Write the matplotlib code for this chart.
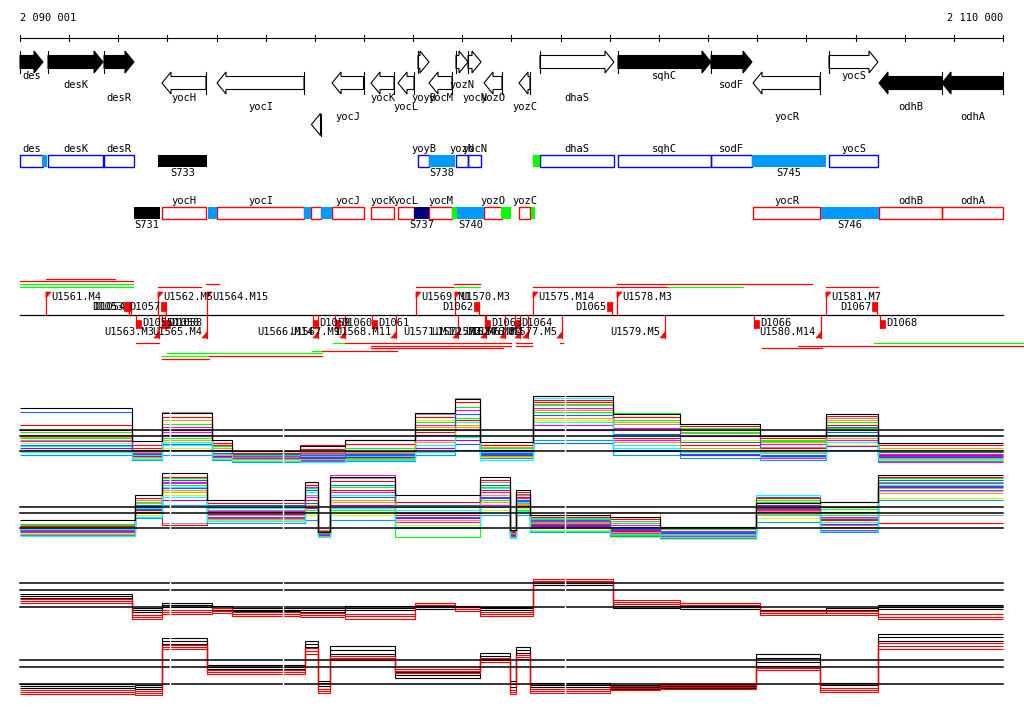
import matplotlib
matplotlib.use('Agg')
import matplotlib.pyplot as plt
from matplotlib.patches import Polygon, Rectangle

plt.rcParams['font.family'] = ['DejaVu Sans Mono']

# ---------------- data ----------------
REGION_START = 2090001
REGION_END = 2110000
ruler_ticks = [REGION_START] + list(range(2091000, 2110001, 1000))

# genes (annotation)
gene_names = ['des', 'desK', 'desR', 'yocH', 'yocI', '', 'yocJ', 'yocK', 'yocL',
              'yoyB', 'yocM', 'yozN', 'yocN', 'yozO', 'yozC', 'dhaS', 'sqhC',
              'sodF', 'yocR', 'yocS', 'odhB', 'odhA']
gene_start = [2090001, 2090571, 2091710, 2092890, 2094009, 2095930, 2096349,
              2097142, 2097691, 2098098, 2098322, 2098871, 2099116, 2099441,
              2100153, 2100580, 2102167, 2104059, 2104914, 2106460, 2107477,
              2108759]
gene_end = [2090469, 2091690, 2092320, 2093785, 2095779, 2096115, 2096990,
            2097610, 2098017, 2098322, 2098790, 2099116, 2099380, 2099807,
            2100377, 2102086, 2104059, 2104893, 2106277, 2107457, 2108759,
            2110000]
gene_strand = ['+', '+', '+', '-', '-', '-', '-', '-', '-', '+', '-', '+', '+',
               '-', '-', '+', '+', '+', '-', '+', '-', '-']
gene_filled = [True, True, True, False, False, False, False, False, False,
               False, False, False, False, False, False, False, True, True,
               False, False, True, True]

# segments between / over genes
seg_names = ['', 'S733', 'S738', '', 'S745', 'S731', '', '', '', 'S737', '',
             'S740', '', '', 'S746']
seg_start = [2090449, 2092809, 2098322, 2100438, 2104893, 2092320, 2093826,
             2095779, 2096125, 2098017, 2098790, 2098892, 2099787, 2100397,
             2106297]
seg_end = [2090550, 2093806, 2098851, 2100580, 2106399, 2092849, 2094009,
           2095921, 2096349, 2098322, 2098892, 2099441, 2099990, 2100478,
           2107477]
seg_strand = ['+', '+', '+', '+', '+', '-', '-', '-', '-', '-', '-', '-', '-',
              '-', '-']
seg_kind = ['light', 'black', 'light', 'green', 'light', 'black', 'light',
            'light', 'light', 'navy', 'green', 'light', 'green', 'green',
            'light']

# probe features: U = upstream, D = downstream
u_up_names = ['U1561.M4', 'U1562.M5', 'U1564.M15', 'U1569.M1', 'U1570.M3',
              'U1575.M14', 'U1578.M3', 'U1581.M7']
u_up_pos = [2090530, 2092809, 2093806, 2098058, 2098851, 2100438, 2102147,
            2106399]
u_down_names = ['U1563.M3', 'U1565.M4', 'U1566.M14', 'U1567.M9', 'U1568.M11',
                'U1571.M1', 'U1572.M2', 'U1573.M6', 'U1574.M8', 'U1576.M4',
                'U1577.M5', 'U1579.M5', 'U1580.M14']
u_down_pos = [2092829, 2093806, 2096064, 2096613, 2097651, 2098912, 2099481,
              2099868, 2100174, 2100336, 2101028, 2103124, 2106297]
d_up_names = ['D1053', 'D1054', 'D1057', 'D1062', 'D1065', 'D1067']
d_up_pos = [2092117, 2092158, 2092870, 2099238, 2101944, 2107335]
d_down_names = ['D1055', 'D1056', 'D1058', 'D1059', 'D1060', 'D1061', 'D1063',
                'D1064', 'D1066', 'D1068']
d_down_pos = [2092361, 2092890, 2092951, 2095962, 2096410, 2097162, 2099461,
              2100072, 2104934, 2107498]

# transcripts above / below the probe line
tr_up_start = [2090530, 2090001, 2090001, 2090001, 2092809, 2093785, 2098058,
               2098830, 2098830, 2100438, 2103184, 2102147, 2106399]
tr_up_end = [2091934, 2092300, 2092300, 2092300, 2093683, 2094050, 2098810,
             2099360, 2099360, 2103184, 2104710, 2106114, 2107457]
tr_up_kind = ['red', 'red', 'green', 'green', 'red', 'red', 'red', 'red',
              'green', 'red', 'green', 'red', 'red']
tr_down_start = [2092361, 2092992, 2092890, 2093846, 2092890, 2095942, 2096145,
                 2096369, 2096613, 2097142, 2097142, 2100092, 2100092, 2100987,
                 2105097, 2105829, 2107376]
tr_down_end = [2092829, 2096145, 2093846, 2096145, 2093846, 2096145, 2097671,
               2096613, 2099990, 2099990, 2099827, 2100418, 2100418, 2101048,
               2106318, 2110400, 2110400]
tr_down_kind = ['red', 'green', 'green', 'red', 'red', 'green', 'red', 'green',
                'red', 'red', 'red', 'red', 'red', 'red', 'red', 'red', 'green']

# expression profiles, plus strand (step edges in bp, levels in log2 signal)
edges_plus = [2090001, 2092280, 2092890, 2093910, 2094310, 2095700, 2096610,
              2098040, 2098850, 2099360, 2100440, 2102070, 2103430, 2105060,
              2106400, 2107460, 2110000]
plus_probe_levels = [
    [9.0, 7.8, 11.8, 8.0, 7.3, 7.6, 7.7, 11.6, 13.2, 8.0, 12.5, 10.6, 9.7, 8.3, 11.2, 7.8],
    [11.8, 8.0, 8.6, 8.0, 7.6, 7.5, 7.6, 8.2, 8.6, 7.6, 8.7, 7.9, 7.6, 7.5, 10.3, 7.8],
    [10.5, 8.5, 10.0, 8.5, 7.5, 8.5, 9.0, 9.8, 11.0, 8.0, 12.8, 9.2, 8.5, 8.2, 10.5, 7.5],
    [9.3, 7.8, 11.0, 8.2, 7.4, 7.8, 7.8, 10.3, 10.5, 8.3, 12.0, 10.8, 10.0, 8.8, 11.0, 8.2],
    [9.8, 7.5, 9.2, 7.5, 7.1, 7.3, 7.2, 10.0, 11.2, 7.8, 11.8, 11.7, 10.2, 9.0, 10.2, 7.3],
    [9.5, 7.2, 9.8, 7.3, 6.9, 7.0, 6.9, 9.0, 10.0, 7.4, 10.5, 9.0, 7.5, 7.2, 9.0, 6.8],
    [8.4, 7.5, 8.5, 7.5, 7.2, 7.4, 7.4, 8.5, 10.8, 7.8, 13.2, 8.5, 8.0, 7.8, 9.5, 7.2],
    [8.7, 7.2, 8.2, 7.2, 7.0, 7.2, 7.3, 11.0, 9.5, 7.3, 11.0, 10.0, 9.0, 8.0, 8.5, 7.0],
    [8.2, 7.4, 8.0, 7.4, 7.2, 7.3, 7.3, 8.2, 9.0, 7.5, 10.0, 8.0, 7.5, 7.4, 8.4, 7.3],
    [7.5, 7.0, 7.5, 7.0, 6.8, 6.9, 6.9, 7.5, 8.0, 7.2, 9.0, 7.5, 7.2, 7.0, 8.0, 6.9],
    [10.0, 8.2, 11.3, 8.7, 7.7, 8.1, 8.6, 11.3, 12.8, 8.5, 13.0, 11.3, 10.4, 9.2, 11.4, 8.5],
    [9.2, 7.9, 10.6, 8.4, 7.5, 7.9, 8.2, 10.8, 12.3, 8.2, 12.6, 11.0, 9.8, 8.9, 10.8, 8.0],
    [8.9, 7.7, 10.3, 7.9, 7.4, 7.7, 7.9, 10.5, 12.0, 7.9, 12.2, 10.2, 9.4, 8.6, 10.0, 7.6],
    [8.5, 7.6, 9.5, 7.7, 7.2, 7.2, 7.5, 9.5, 11.6, 7.7, 11.5, 9.6, 8.8, 8.0, 9.8, 7.4],
    [8.0, 7.3, 9.0, 7.6, 7.1, 7.1, 7.1, 8.8, 10.3, 7.4, 11.2, 8.8, 8.2, 7.7, 9.2, 7.2],
    [7.8, 7.1, 8.8, 7.1, 6.9, 6.8, 7.0, 7.8, 9.3, 7.0, 10.8, 8.2, 7.8, 7.3, 8.8, 7.1],
    [12.2, 8.9, 11.7, 9.0, 7.9, 8.4, 9.0, 11.7, 13.1, 8.8, 13.4, 11.6, 10.6, 9.4, 11.6, 8.7],
]

# expression profiles, minus strand
edges_minus = [2090001, 2092340, 2092890, 2093810, 2095800, 2096060, 2096310,
               2097630, 2099360, 2099970, 2100090, 2100380, 2102000, 2103020,
               2104970, 2106280, 2107460, 2110000]
minus_probe_levels = [
    [8.2, 10.7, 8.4, 9.7, 11.2, 7.7, 12.9, 9.5, 12.5, 7.4, 10.4, 8.5, 8.6, 7.4, 9.5, 8.2, 9.2],
    [7.9, 10.2, 12.7, 10.2, 11.7, 7.4, 12.2, 10.2, 12.2, 7.2, 10.7, 8.7, 8.0, 7.5, 11.0, 9.5, 12.7],
    [7.7, 9.7, 8.2, 9.5, 10.7, 7.2, 11.7, 9.2, 11.7, 7.5, 11.0, 8.2, 7.7, 7.2, 9.9, 8.7, 8.4],
    [8.0, 10.4, 11.7, 9.2, 10.2, 7.5, 10.7, 8.7, 11.2, 7.3, 10.2, 8.4, 9.5, 7.3, 9.2, 8.9, 11.4],
    [8.3, 10.0, 12.2, 8.7, 9.7, 7.3, 9.7, 7.0, 10.7, 7.2, 9.7, 7.9, 7.2, 6.9, 10.7, 9.2, 12.9],
    [7.5, 9.5, 12.4, 8.9, 12.0, 7.1, 13.2, 8.5, 10.2, 7.0, 11.3, 8.0, 7.4, 7.1, 9.7, 7.7, 11.7],
    [7.8, 9.9, 12.0, 9.9, 11.5, 7.4, 11.2, 9.7, 11.9, 7.1, 10.5, 8.9, 7.9, 7.3, 11.2, 8.5, 12.2],
    [7.4, 9.2, 11.2, 8.7, 9.2, 7.2, 9.2, 8.2, 9.7, 7.0, 9.9, 7.7, 7.0, 6.8, 8.9, 7.9, 10.9],
    [7.6, 9.5, 10.7, 9.3, 9.9, 7.3, 10.2, 8.9, 10.9, 7.2, 10.1, 8.1, 7.6, 7.2, 10.2, 8.3, 12.0],
    [7.2, 8.9, 10.2, 8.4, 8.7, 7.0, 8.7, 7.9, 9.2, 6.9, 9.2, 7.5, 7.1, 6.9, 8.5, 7.5, 10.7],
    [8.1, 10.9, 13.0, 10.4, 12.2, 7.6, 12.6, 10.5, 12.7, 7.6, 11.5, 9.0, 8.8, 7.9, 10.9, 10.0, 13.0],
    [7.9, 10.5, 12.9, 10.0, 11.9, 7.4, 12.0, 10.0, 12.0, 7.4, 11.2, 8.8, 8.4, 7.8, 10.5, 9.8, 12.5],
    [7.7, 10.1, 12.5, 9.6, 11.0, 7.3, 11.5, 9.4, 11.5, 7.3, 10.9, 8.6, 8.2, 7.6, 10.0, 9.0, 12.4],
    [7.6, 9.8, 11.9, 9.0, 10.4, 7.2, 11.0, 9.0, 11.0, 7.1, 10.6, 8.3, 7.8, 7.4, 9.8, 8.8, 12.1],
    [7.3, 9.4, 11.5, 8.8, 10.0, 7.1, 10.5, 8.7, 10.5, 7.0, 10.3, 7.9, 7.5, 7.2, 9.6, 8.0, 11.9],
    [7.1, 9.0, 11.0, 8.6, 9.5, 7.0, 9.9, 8.0, 10.0, 6.9, 9.6, 7.6, 7.3, 7.0, 9.3, 7.6, 11.6],
    [8.7, 11.2, 13.4, 10.7, 12.5, 7.5, 13.0, 11.2, 13.0, 7.7, 11.7, 9.2, 9.0, 8.0, 10.4, 10.5, 13.2],
]

# summary profiles (three replicates each of two conditions)
plus_cond1 = [
    [9.03, 7.79, 8.23, 7.97, 7.79, 7.79, 7.97, 7.97, 7.97, 7.88, 10.18, 8.15, 7.97, 7.62, 7.79, 8.06],
    [8.85, 7.62, 8.06, 7.79, 7.62, 7.62, 7.79, 7.88, 7.88, 7.79, 10.00, 7.97, 7.88, 7.53, 7.62, 7.88],
    [8.68, 7.44, 7.88, 7.62, 7.53, 7.44, 7.62, 7.71, 7.71, 7.62, 9.82, 7.79, 7.71, 7.35, 7.53, 7.71],
]
plus_cond2 = [
    [8.59, 7.18, 7.62, 7.79, 7.44, 7.35, 7.26, 8.23, 7.88, 7.44, 10.35, 8.50, 8.23, 7.53, 7.53, 7.26],
    [8.41, 7.00, 7.44, 7.53, 7.26, 7.18, 7.09, 8.06, 7.71, 7.26, 10.18, 8.32, 8.06, 7.35, 7.35, 7.00],
    [8.23, 6.82, 7.26, 7.35, 7.09, 7.00, 6.82, 7.88, 7.53, 7.09, 10.00, 8.15, 7.88, 7.18, 7.18, 6.82],
]
minus_cond1 = [
    [7.88, 7.79, 11.94, 9.56, 11.68, 8.15, 11.24, 8.94, 10.62, 8.15, 11.15, 7.97, 7.79, 7.88, 10.53, 7.97, 12.29],
    [7.71, 7.62, 11.68, 9.38, 11.41, 7.97, 10.88, 8.68, 10.35, 7.88, 10.88, 7.79, 7.62, 7.71, 10.18, 7.79, 12.03],
    [7.53, 7.44, 11.41, 9.21, 11.15, 7.71, 10.53, 8.41, 10.09, 7.62, 10.62, 7.62, 7.44, 7.53, 9.82, 7.53, 11.68],
]
minus_cond2 = [
    [7.35, 7.26, 11.32, 9.12, 11.06, 7.44, 10.35, 9.21, 10.18, 7.35, 10.44, 7.44, 7.71, 7.79, 9.47, 7.53, 11.50],
    [7.18, 7.09, 11.15, 8.94, 10.79, 7.26, 10.18, 9.03, 10.00, 7.18, 10.26, 7.26, 7.53, 7.62, 9.29, 7.35, 11.24],
    [7.00, 6.91, 10.97, 8.76, 10.53, 7.09, 10.00, 8.85, 9.82, 7.00, 10.09, 7.09, 7.35, 7.44, 9.12, 7.18, 10.97],
]
ref_levels = [10.0, 9.4, 7.9]
gap_positions = [2093050, 2095350, 2101090]

# ---------------- style / layout ----------------
W, H = 1024, 714
BP_PER_PX = (REGION_END - REGION_START) / 983.0
X0 = REGION_START - 20 * BP_PER_PX
X1 = X0 + W * BP_PER_PX
FS = 7.5

probe_colors = ['#999999', '#0066ff', '#ff0000', '#ff9900', '#00ff00', '#ff00ff',
                '#00ffff', '#ccff00', '#9900ff', '#0099ff',
                '#ff0000', '#00ff00', '#ff00ff', '#0066ff', '#ff9900', '#00ffff',
                '#000000']
seg_colors = {'light': '#0099ff', 'black': '#000000', 'green': '#00ff00',
              'navy': '#000080'}
line_colors = {'red': '#ff0000', 'green': '#00ff00'}

gene_row_y = [62, 62, 62, 83, 83, 124.5, 83, 83, 83, 62, 83, 62, 62, 83, 83, 62,
              62, 62, 83, 62, 83, 83]
gene_label_y = [76, 85, 98, 98, 107, 0, 117, 98, 107, 98, 98, 85, 98, 98, 107,
                98, 76, 85, 117, 76, 107, 117]
tr_up_y = [279, 281, 284, 287, 287, 284, 287, 284, 287, 287, 287, 284, 287]
tr_down_y = [343, 353, 356, 356, 359, 351, 351, 343, 343, 346, 348, 343, 346,
             343, 348, 346, 343]


def px(n):
    return n * BP_PER_PX


fig = plt.figure(figsize=(W / 100, H / 100), dpi=100)
ax = fig.add_axes([0, 0, 1, 1])
ax.set_xlim(X0, X1)
ax.set_ylim(H, 0)
ax.axis('off')

# ruler
ax.plot([REGION_START, REGION_END], [38, 38], color='black', lw=0.8)
for t in ruler_ticks:
    ax.plot([t, t], [35, 41], color='black', lw=0.8)
ax.text(REGION_START, 18, '2 090 001', ha='left', va='center', fontsize=FS)
ax.text(REGION_END, 18, '2 110 000', ha='right', va='center', fontsize=FS)

# gene arrows
HEAD, BODY_H, HEAD_H = px(9), 6.5, 11
for i, name in enumerate(gene_names):
    s, e = gene_start[i], gene_end[i]
    yc = gene_row_y[i]
    if gene_strand[i] == '+':
        tip, back, sign = e, s, -1
    else:
        tip, back, sign = s, e, 1
    if e - s > HEAD:
        base = tip + sign * HEAD
        pts = [(back, yc - BODY_H), (base, yc - BODY_H), (base, yc - HEAD_H),
               (tip, yc), (base, yc + HEAD_H), (base, yc + BODY_H),
               (back, yc + BODY_H)]
    else:
        pts = [(back, yc - HEAD_H), (tip, yc), (back, yc + HEAD_H)]
    fc = 'black' if gene_filled[i] else 'white'
    ax.add_patch(Polygon(pts, closed=True, fc=fc, ec='black', lw=0.8))
    ax.plot([back, back], [yc - HEAD_H, yc + HEAD_H], color='black', lw=0.8)
    if name:
        ax.text((s + e) / 2, gene_label_y[i], name, ha='center', va='center',
                fontsize=FS)

# gene boxes and segments
ROW_TOP = {'+': 155, '-': 207}
ROW_LABEL = {'+': 149, '-': 201}
BOX_H = 11.5
for i, name in enumerate(gene_names):
    st = gene_strand[i]
    ec = '#0000ff' if st == '+' else '#ff0000'
    ax.add_patch(Rectangle((gene_start[i], ROW_TOP[st]),
                           gene_end[i] - gene_start[i], BOX_H,
                           fill=False, ec=ec, lw=1.0))
    if name:
        ax.text((gene_start[i] + gene_end[i]) / 2, ROW_LABEL[st], name,
                ha='center', va='center', fontsize=FS)
for i, name in enumerate(seg_names):
    st = seg_strand[i]
    ax.add_patch(Rectangle((seg_start[i], ROW_TOP[st]), seg_end[i] - seg_start[i],
                           BOX_H, fc=seg_colors[seg_kind[i]], ec='none', zorder=3))
    if name:
        ax.text((seg_start[i] + seg_end[i]) / 2, ROW_TOP[st] + BOX_H + 6, name,
                ha='center', va='center', fontsize=FS)

# probe track
RED = '#ff0000'
ax.plot([REGION_START, REGION_END], [315, 315], color='black', lw=0.9)
FW = px(5)
for name, x in zip(u_up_names, u_up_pos):
    ax.plot([x, x], [292, 315], color=RED, lw=0.9)
    ax.add_patch(Polygon([(x, 292), (x + FW, 292), (x, 298)], fc=RED, ec=RED, lw=0.5))
    ax.text(x + FW, 297.5, name, ha='left', va='center', fontsize=FS)
for name, x in zip(u_down_names, u_down_pos):
    ax.plot([x, x], [315, 338], color=RED, lw=0.9)
    ax.add_patch(Polygon([(x, 338), (x - FW, 338), (x, 332)], fc=RED, ec=RED, lw=0.5))
    ax.text(x - FW, 332, name, ha='right', va='center', fontsize=FS)
for name, x in zip(d_up_names, d_up_pos):
    ax.add_patch(Rectangle((x, 302), FW, 9, fc=RED, ec=RED, lw=0.5))
    ax.plot([x + FW, x + FW], [302, 315], color=RED, lw=0.9)
    ax.text(x - px(1), 306.5, name, ha='right', va='center', fontsize=FS)
for name, x in zip(d_down_names, d_down_pos):
    ax.add_patch(Rectangle((x, 320), FW, 8, fc=RED, ec=RED, lw=0.5))
    ax.plot([x, x], [315, 328], color=RED, lw=0.9)
    ax.text(x + FW + px(1), 323.5, name, ha='left', va='center', fontsize=FS)
for s, e, k, y in zip(tr_up_start, tr_up_end, tr_up_kind, tr_up_y):
    ax.plot([s, e], [y, y], color=line_colors[k], lw=0.9)
for s, e, k, y in zip(tr_down_start, tr_down_end, tr_down_kind, tr_down_y):
    ax.plot([s, e], [y, y], color=line_colors[k], lw=0.9)


# expression tracks
def add_track(top_px, bottom_px, ref_px, ppu):
    t = fig.add_axes([0, 1 - bottom_px / H, 1, (bottom_px - top_px) / H])
    t.set_xlim(X0, X1)
    t.set_ylim(10.0 - (bottom_px - ref_px) / ppu, 10.0 + (ref_px - top_px) / ppu)
    t.axis('off')
    for lv in ref_levels:
        t.plot([REGION_START, REGION_END], [lv, lv], color='black', lw=1.1, zorder=4)
    return t


t1 = add_track(385, 475, 430, 10.0)
for vals, c in zip(plus_probe_levels, probe_colors):
    t1.stairs(vals, edges_plus, baseline=None, color=c, lw=0.8)
t2 = add_track(462, 552, 507, 10.0)
for vals, c in zip(minus_probe_levels, probe_colors):
    t2.stairs(vals, edges_minus, baseline=None, color=c, lw=0.8)
t3 = add_track(560, 632, 583, 11.33)
for vals in plus_cond1:
    t3.stairs(vals, edges_plus, baseline=None, color='black', lw=0.8)
for vals in plus_cond2:
    t3.stairs(vals, edges_plus, baseline=None, color=RED, lw=0.8)
t4 = add_track(628, 705, 660, 11.33)
for vals in minus_cond1:
    t4.stairs(vals, edges_minus, baseline=None, color='black', lw=0.8)
for vals in minus_cond2:
    t4.stairs(vals, edges_minus, baseline=None, color=RED, lw=0.8)
for t in (t1, t2, t3, t4):
    for g in gap_positions:
        t.axvline(g, color='white', lw=1.0, zorder=6)

fig.savefig('out.png', dpi=100, facecolor='white')
